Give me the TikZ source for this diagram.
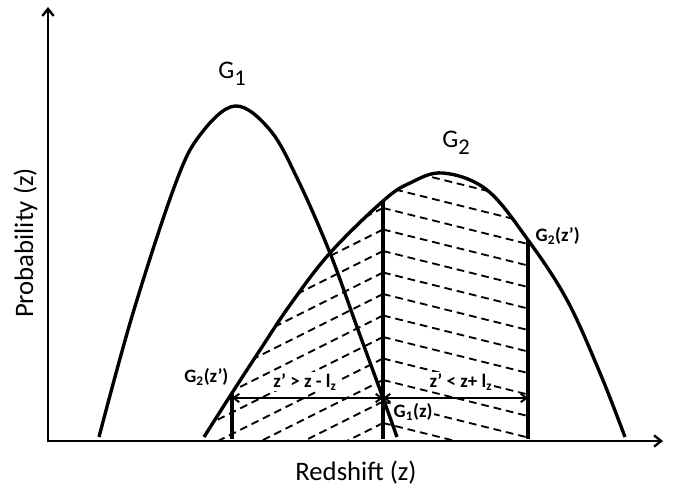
\documentclass[tikz,border=0pt]{standalone}
\usepackage{fontspec}
\setmainfont{Carlito}
\usepackage{tikz}
\usetikzlibrary{arrows.meta}

\newcommand{\gonecurve}{plot[smooth,tension=0.6] coordinates {(99,437) (133,313) (175,185) (200,135) (235,106) (270,130) (298,180) (330,253) (357,327) (383,398) (397,437)}}
\newcommand{\gtwocurve}{plot[smooth,tension=0.6] coordinates {(204,437) (232,393) (260,350) (290,305) (330,253) (383,201) (410,183) (443,173) (487,190) (528,240) (567,300) (600,373) (625,437)}}

\begin{document}
\begin{tikzpicture}[x=0.025cm,y=-0.025cm,
    curve/.style={line width=2.4pt},
    vline/.style={line width=2.3pt},
    axis/.style={line width=1.7pt,>={Straight Barb[length=5pt,width=8pt]},<->},
    span/.style={line width=1.4pt,>={Straight Barb[length=4pt,width=6pt]},<->},
    hatch/.style={line width=1.3pt,dash pattern=on 5.5pt off 3.5pt},
    big/.style={font=\fontsize{18}{20}\selectfont,inner sep=0pt},
    axlbl/.style={font=\fontsize{19}{21}\selectfont,inner sep=0pt},
    tag/.style={font=\bfseries\fontsize{13.5}{15}\selectfont,inner sep=1pt,fill=white}
  ]
    \useasboundingbox (0,0) rectangle (685,488);

    % hatching under G2
    \begin{scope}
      \clip \gtwocurve -- (625,441) -- (204,441) -- cycle;
      \begin{scope}
        \clip (200,100) rectangle (383,441);
        \foreach \k in {-2,...,10} {
          \draw[hatch] (383,208+21.5*\k) -- ++(-260,130);
        }
      \end{scope}
      \clip (383,100) rectangle (528,441);
      \foreach \k in {-2,...,10} {
        \draw[hatch] (383,208+21.5*\k) -- ++(145,36);
      }
    \end{scope}

    % labels
    \node[big,anchor=base west] (g1) at (218,78) {G\raisebox{-5pt}{\fontsize{16}{18}\selectfont 1}};
    \node[big,anchor=base west] (g2) at (442,147) {G\raisebox{-5pt}{\fontsize{16}{18}\selectfont 2}};
    \node[tag,anchor=base east] (g2l) at (230,382) {G\textsubscript{2}(z’)};
    \node[tag,anchor=base west] (g2r) at (534,241) {G\textsubscript{2}(z’)};
    \node[tag,anchor=base west] (g1z) at (392,417) {G\textsubscript{1}(z)};
    \node[tag,anchor=base] (dl) at (305,387) {z’ > z - l\textsubscript{z}};
    \node[tag,anchor=base] (dr) at (461,387) {z’ < z+ l\textsubscript{z}};
    \node[axlbl,anchor=base] (xlab) at (356,480) {Redshift (z)};
    \node[axlbl,anchor=base,rotate=90] (ylab) at (33,243) {Probability (z)};

    % axes
    \coordinate (o) at (48,441);
    \coordinate (ytop) at (48,7);
    \coordinate (xend) at (663,441);
    \draw[axis] (ytop) -- (o) -- (xend);

    % curves
    \draw[curve] \gonecurve;
    \draw[curve] \gtwocurve;

    % limits
    \coordinate (zl) at (232,393);
    \coordinate (zm) at (383,201);
    \coordinate (zr) at (528,240);
    \coordinate (bl) at (232,439);
    \coordinate (bm) at (383,439);
    \coordinate (br) at (528,439);
    \draw[vline] (zl) -- (bl);
    \draw[vline] (zm) -- (bm);
    \draw[vline] (zr) -- (br);

    \coordinate (al) at (232,398);
    \coordinate (am) at (383,398);
    \coordinate (ar) at (528,398);
    \draw[span] (al) -- (am);
    \draw[span] (am) -- (ar);
  \end{tikzpicture}
\end{document}
